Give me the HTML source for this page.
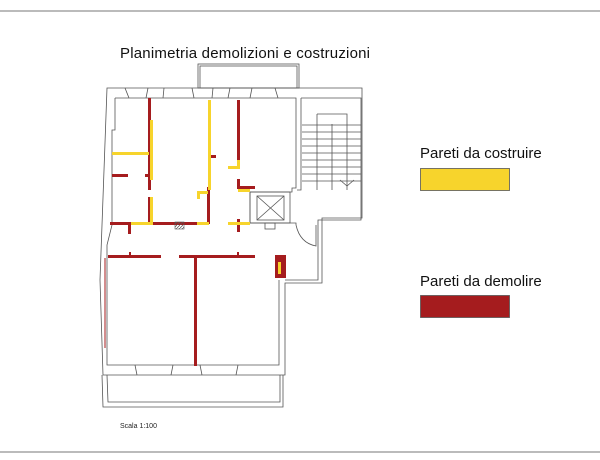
<!DOCTYPE html>
<html><head><meta charset="utf-8"><style>html,body{margin:0;padding:0;background:#fff}svg{display:block}</style></head>
<body>
<svg width="600" height="460" viewBox="0 0 600 460" xmlns="http://www.w3.org/2000/svg" font-family="Liberation Sans, sans-serif">
<defs><pattern id="h" width="3" height="3" patternUnits="userSpaceOnUse"><path d="M0 3L3 0" stroke="#555" stroke-width="0.7"/></pattern></defs>
<line x1="0" y1="11" x2="600" y2="11" stroke="#777" stroke-width="1"/>
<line x1="0" y1="452" x2="600" y2="452" stroke="#777" stroke-width="1"/>
<text x="120" y="58" font-size="15" textLength="250" fill="#111">Planimetria demolizioni e costruzioni</text>
<g fill="none" stroke="#555" stroke-width="0.8">
<!-- balcony top -->
<rect x="198" y="64" width="101" height="24"/><rect x="200" y="66" width="97" height="22"/>
<!-- outer outline -->
<path d="M107 88 H362 V218 H322 V283 H285 V375 L103 375 L100 280 L107 88 Z"/>
<!-- inner main -->
<path d="M115 98 H296 V188 H292 V192 H250 V223 H296 V225"/>
<path d="M115 98 V130 H112 V225 L107 245 V365 H279 V280"/>
<!-- stair inner -->
<path d="M301 98 H361 V220 H318 V280 H285"/>
<path d="M301 98 V190 H297"/>
<!-- windows top -->
<path d="M125 88 L129 98 M148 88 L146 98 M164 88 L163 98 M192 88 L194 98 M213 88 L212 98 M230 88 L228 98 M252 88 L250 98 M275 88 L278 98"/>
<!-- windows bottom -->
<path d="M135 365 L137 375 M173 365 L171 375 M200 365 L202 375 M238 365 L236 375"/>
<!-- bottom balcony -->
<path d="M102 375 L103 407 H283 V375 M107 375 L108 402 H280 V375"/>
<!-- elevator -->
<rect x="250" y="192" width="40" height="31"/><rect x="257" y="196" width="27" height="24"/>
<path d="M257 196 L284 220 M284 196 L257 220"/>
<rect x="265" y="223" width="10" height="6"/>
<!-- door arc -->
<path d="M296 225 Q300 243 316 246 V225"/>
<!-- stairs -->
<path d="M302 125 H361 M302 132 H361 M302 139 H361 M302 146 H361 M302 153 H361 M302 160 H361 M302 167 H361 M302 174 H361 M302 181 H361"/>
<path d="M317 114 H347 V190 M317 114 V190 M332 124 V190"/>
<path d="M340 180 L347 186 L354 180"/>
</g>
<!-- red walls -->
<g fill="#a51c1e">
<rect x="148" y="98" width="3" height="92"/>
<rect x="112" y="174" width="16" height="3"/><rect x="145" y="174" width="5" height="3"/>
<rect x="148" y="197" width="3" height="26"/>
<rect x="110" y="222" width="22" height="3"/>
<rect x="153" y="222" width="55" height="3"/>
<rect x="207" y="187" width="3" height="37"/>
<rect x="237" y="100" width="3" height="67"/>
<rect x="210" y="155" width="6" height="3"/>
<rect x="237" y="179" width="3" height="10"/><rect x="237" y="186" width="18" height="3"/>
<rect x="237" y="219" width="3" height="13"/>
<rect x="128" y="223" width="3" height="11"/>
<rect x="108" y="255" width="53" height="3"/><rect x="129" y="252" width="2" height="4"/>
<rect x="179" y="255" width="76" height="3"/><rect x="237" y="252" width="2" height="4"/>
<rect x="194" y="256" width="3" height="110"/>
<rect x="275" y="255" width="11" height="23"/>
<rect x="104" y="258" width="2" height="90" opacity="0.5"/>
</g>
<!-- yellow walls -->
<g fill="#f7d42c">
<rect x="150" y="120" width="3" height="60"/>
<rect x="112" y="152" width="37" height="3"/>
<rect x="150" y="197" width="3" height="26"/>
<rect x="131" y="222" width="22" height="3"/>
<rect x="197" y="222" width="12" height="3"/>
<rect x="208" y="100" width="3" height="90"/>
<rect x="197" y="191" width="11" height="3"/><rect x="197" y="191" width="3" height="8"/>
<rect x="228" y="166" width="12" height="3"/><rect x="237" y="160" width="3" height="9"/>
<rect x="238" y="189" width="12" height="3"/>
<rect x="228" y="222" width="22" height="3"/>
<rect x="278" y="262" width="3" height="12"/>
</g>
<rect x="175" y="222" width="9" height="7" fill="url(#h)" stroke="#555" stroke-width="0.6"/>
<!-- legend -->
<text x="420" y="158" font-size="15" fill="#111">Pareti da costruire</text>
<rect x="420.5" y="168.5" width="89" height="22" fill="#f7d42c" stroke="#555" stroke-width="0.8"/>
<text x="420" y="286" font-size="15" fill="#111">Pareti da demolire</text>
<rect x="420.5" y="295.5" width="89" height="22" fill="#a51c1e" stroke="#555" stroke-width="0.8"/>
<text x="120" y="428" font-size="7" fill="#222">Scala 1:100</text>
</svg>
</body></html>
